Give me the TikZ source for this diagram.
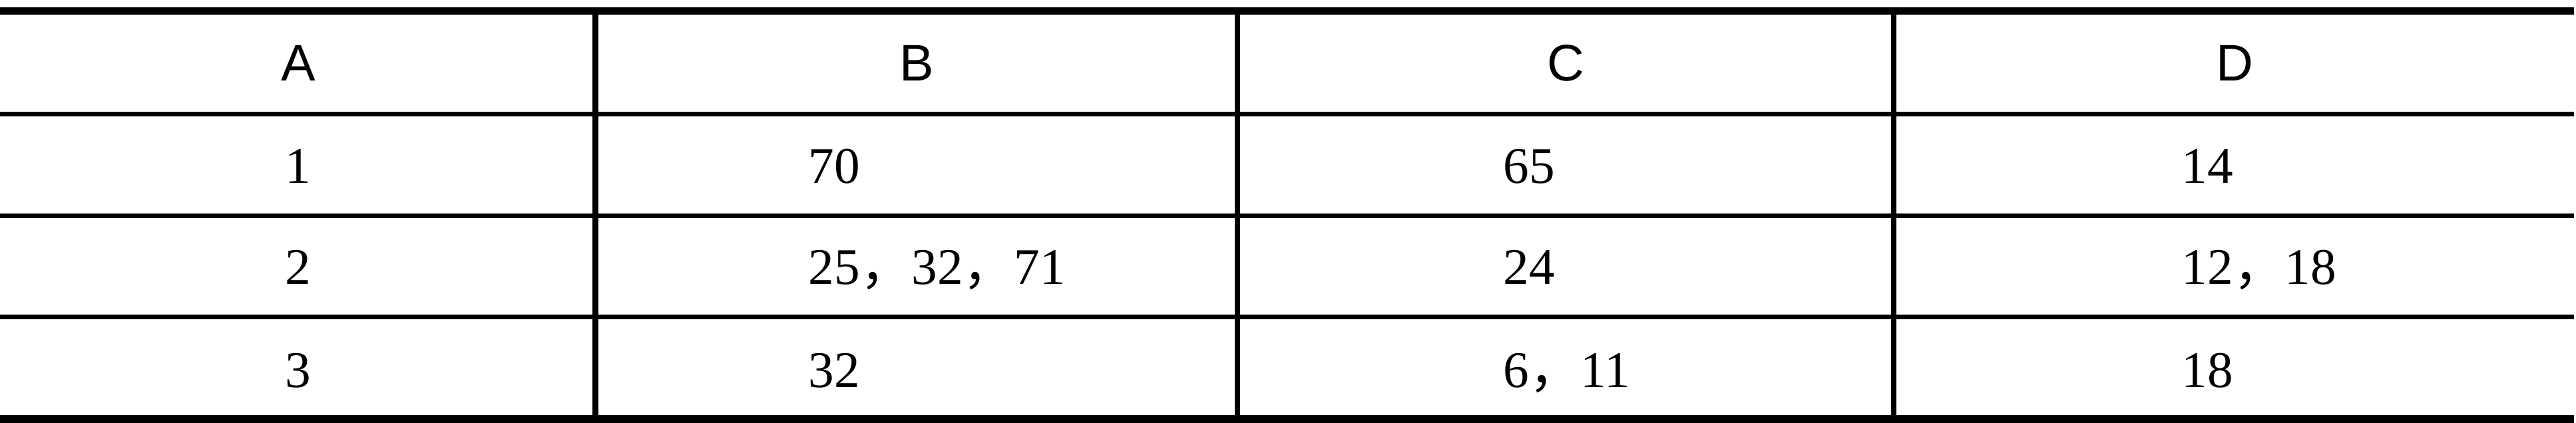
\documentclass[tikz,border=0pt]{standalone}
\usepackage{fontspec}
\setmainfont{Liberation Serif}
\setsansfont{Liberation Sans}
\newfontfamily\cjk{Noto Sans CJK SC}
\newcommand{\zhcomma}{{\cjk ，}}

\begin{document}
\begin{tikzpicture}[font=\fontsize{22}{26}\selectfont,
    head/.style={font=\sffamily\fontsize{22}{26}\selectfont,anchor=base,inner sep=0pt},
    mid/.style={anchor=base,inner sep=0pt},
    cell/.style={anchor=base west,inner sep=0pt}]
    \useasboundingbox (0,0) rectangle (38.7,6.36);
    \coordinate (TL) at (0,6.195);
    \coordinate (TR) at (38.67,6.195);
    \coordinate (BL) at (0,0.06);
    \coordinate (BR) at (38.67,0.06);
    \draw [line width=3.1pt] (TL) -- (TR);
    \draw [line width=3.4pt] (BL) -- (BR);
    \foreach \y in {4.645,3.115,1.595}
        \draw [line width=2pt] (0,\y) -- (38.67,\y);
    \foreach \x in {8.945,18.59,28.45}
        \draw [line width=2.4pt] (\x,6.195) -- (\x,0.06);
    % header
    \node [head] (hA) at (4.48,5.14) {A};
    \node [head] (hB) at (13.77,5.14) {B};
    \node [head] (hC) at (23.52,5.14) {C};
    \node [head] (hD) at (33.57,5.14) {D};
    % rows
    \node [mid] (a1) at (4.48,3.60) {1};
    \node [cell] (b1) at (12.14,3.60) {70};
    \node [cell] (c1) at (22.58,3.60) {65};
    \node [cell] (d1) at (32.77,3.60) {14};
    \node [mid] (a2) at (4.48,2.08) {2};
    \node [cell] (b2) at (12.14,2.08) {25\zhcomma 32\zhcomma 71};
    \node [cell] (c2) at (22.58,2.08) {24};
    \node [cell] (d2) at (32.77,2.08) {12\zhcomma 18};
    \node [mid] (a3) at (4.48,0.53) {3};
    \node [cell] (b3) at (12.14,0.53) {32};
    \node [cell] (c3) at (22.58,0.53) {6\zhcomma 11};
    \node [cell] (d3) at (32.77,0.53) {18};
\end{tikzpicture}
\end{document}
